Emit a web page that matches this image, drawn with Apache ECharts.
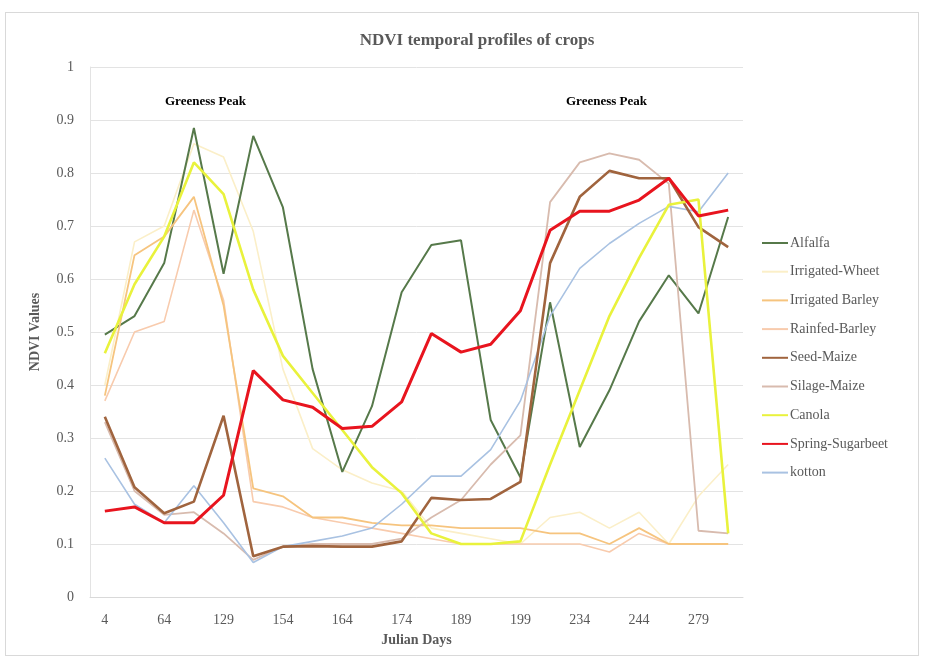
<!DOCTYPE html>
<html>
<head>
<meta charset="utf-8">
<script src="https://cdn.jsdelivr.net/npm/echarts@6/dist/echarts.min.js"></script>
<style>
html,body{margin:0;padding:0;background:#fff;}
#frame{position:absolute;left:5px;top:12px;width:914px;height:644px;border:1px solid #d9d9d9;box-sizing:border-box;}
#chart{position:absolute;left:0;top:0;width:925px;height:664px;}
</style>
</head>
<body>
<div id="frame"></div>
<div id="chart"></div>
<script>
const days = ['4','34','64','94','129','144','154','159','164','169','174','181','189','194','199','219','234','239','244','264','279','289'];
const yTicks = [0,0.1,0.2,0.3,0.4,0.5,0.6,0.7,0.8,0.9,1];

const alfalfa        = [0.495,0.53,0.63,0.885,0.61,0.87,0.735,0.43,0.236,0.36,0.575,0.664,0.673,0.334,0.226,0.556,0.283,0.39,0.52,0.607,0.535,0.717];
const irrigatedWheet = [0.40,0.67,0.70,0.855,0.83,0.69,0.43,0.28,0.24,0.215,0.20,0.13,0.12,0.11,0.10,0.15,0.16,0.13,0.16,0.10,0.19,0.25];
const irrigatedBarley= [0.38,0.645,0.68,0.755,0.55,0.205,0.19,0.15,0.15,0.14,0.135,0.135,0.13,0.13,0.13,0.12,0.12,0.10,0.13,0.10,0.10,0.10];
const rainfedBarley  = [0.37,0.50,0.52,0.73,0.56,0.18,0.17,0.15,0.14,0.13,0.12,0.11,0.10,0.10,0.10,0.10,0.10,0.085,0.12,0.10,0.10,0.10];
const seedMaize      = [0.34,0.207,0.158,0.18,0.342,0.077,0.095,0.096,0.095,0.095,0.105,0.187,0.183,0.185,0.217,0.63,0.755,0.804,0.79,0.79,0.698,0.66];
const silageMaize    = [0.33,0.20,0.155,0.16,0.12,0.07,0.095,0.10,0.10,0.10,0.11,0.15,0.183,0.25,0.305,0.745,0.82,0.837,0.825,0.78,0.125,0.12];
const canola         = [0.46,0.59,0.68,0.82,0.76,0.58,0.455,0.385,0.315,0.245,0.196,0.12,0.10,0.10,0.105,0.25,0.39,0.53,0.64,0.74,0.75,0.12];
const sugarbeet      = [0.162,0.17,0.14,0.14,0.192,0.427,0.372,0.358,0.318,0.322,0.368,0.497,0.462,0.477,0.54,0.692,0.728,0.728,0.749,0.79,0.719,0.73];
const kotton         = [0.262,0.175,0.14,0.21,0.14,0.065,0.095,0.105,0.115,0.13,0.175,0.228,0.228,0.278,0.37,0.53,0.62,0.667,0.705,0.737,0.727,0.80];

const names = ['Alfalfa','Irrigated-Wheet','Irrigated Barley','Rainfed-Barley','Seed-Maize','Silage-Maize','Canola','Spring-Sugarbeet','kotton'];
const values = [alfalfa,irrigatedWheet,irrigatedBarley,rainfedBarley,seedMaize,silageMaize,canola,sugarbeet,kotton];
const colors = ['#56794A','#FBEFC8','#F6C47E','#F8CBAD','#A0643E','#D8BBAE','#E9F23C','#E8141E','#A9C2E2'];
const widths = [2,1.6,1.8,1.6,2.6,1.8,2.6,3,1.6];

const font = '"Liberation Serif","Times New Roman",serif';
const chart = echarts.init(document.getElementById('chart'), null, {renderer:'canvas'});
chart.setOption({
  animation:false,
  backgroundColor:'transparent',
  title:{text:'NDVI temporal profiles of crops',left:472,top:27,textAlign:'center',
    textStyle:{fontFamily:font,fontSize:17,fontWeight:'bold',color:'#595959'}},
  grid:{left:90,right:182,top:67,bottom:67},
  legend:{orient:'vertical',left:757,top:231,itemGap:14.7,itemWidth:26,itemHeight:2,
    icon:'rect',data:names,
    textStyle:{fontFamily:font,fontSize:14,color:'#595959',padding:[0,0,0,-3]}},
  xAxis:{type:'category',data:days,boundaryGap:true,
    name:'Julian Days',nameLocation:'middle',nameGap:36,
    nameTextStyle:{fontFamily:font,fontSize:14,fontWeight:'bold',color:'#595959'},
    axisLine:{lineStyle:{color:'#D9D9D9'}},axisTick:{show:false},
    axisLabel:{interval:1,fontFamily:font,fontSize:14,color:'#595959',margin:16}},
  yAxis:{type:'value',min:0,max:1,interval:0.1,
    name:'NDVI Values',nameLocation:'middle',nameGap:48,
    nameTextStyle:{fontFamily:font,fontSize:14,fontWeight:'bold',color:'#595959'},
    axisLine:{show:true,lineStyle:{color:'#E3E3E3'}},axisTick:{show:false},
    splitLine:{lineStyle:{color:'#E3E3E3'}},
    axisLabel:{fontFamily:font,fontSize:14,color:'#595959',margin:16,
      formatter:v=>{const t=yTicks.find(x=>Math.abs(x-v)<1e-6);return t===undefined?'':String(t);}}},
  graphic:[
    {type:'text',left:165,top:95,style:{text:'Greeness Peak',font:'bold 13px '+font,fill:'#000'}},
    {type:'text',left:566,top:95,style:{text:'Greeness Peak',font:'bold 13px '+font,fill:'#000'}}
  ],
  series:names.map((n,i)=>({name:n,type:'line',data:values[i],symbol:'none',
    lineStyle:{color:colors[i],width:widths[i]},itemStyle:{color:colors[i]},z:[2,1,2,1,3,2,3,4,2][i]}))
});
</script>
</body>
</html>
